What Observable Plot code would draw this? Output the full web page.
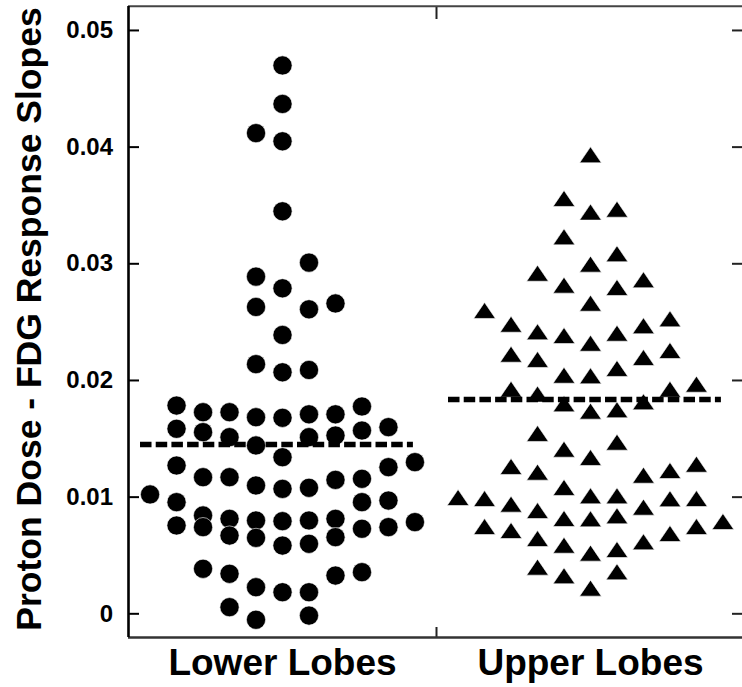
<!DOCTYPE html>
<html>
<head>
<meta charset="utf-8">
<script src="https://cdn.jsdelivr.net/npm/d3@7"></script>
<script src="https://cdn.jsdelivr.net/npm/@observablehq/plot@0.6"></script>
<style>
  html, body { margin: 0; padding: 0; background: #fff; overflow: hidden; }
  svg { display: block; }
  svg text { font-weight: bold; }
</style>
</head>
<body>
<div id="chart"></div>
<script>
// ---- data ----
const categories = ["Lower Lobes", "Upper Lobes"];

const lowerValues = [
  0.0470, 0.0437, 0.0412, 0.0405, 0.0345, 0.0301, 0.0289, 0.0279, 0.0263, 0.0261, 0.0266,
  0.0239, 0.0214, 0.0207, 0.0209,
  0.01785, 0.01728, 0.01728, 0.01685, 0.0168, 0.0171, 0.0171, 0.01777,
  0.01586, 0.01557, 0.01514, 0.01443, 0.01342, 0.01514, 0.01528, 0.01571, 0.0160,
  0.01271, 0.01171, 0.01171, 0.0110, 0.01071, 0.0108, 0.01148, 0.01157, 0.01257, 0.0130,
  0.01023, 0.00957, 0.00957, 0.00971,
  0.00757, 0.00843, 0.00743, 0.00814, 0.00671, 0.0080, 0.00651, 0.00794, 0.00585,
  0.0080, 0.0060, 0.00814, 0.00657, 0.00729, 0.00743, 0.00786,
  0.00386, 0.00343, 0.00228, 0.00185, 0.00185, 0.00328, 0.00357,
  0.00057, -0.00051, -0.00015
];
const lowerSlots = [
  0, 0, -1, 0, 0, 1, -1, 0, -1, 1, 2,
  0, -1, 0, 1,
  -4, -3, -2, -1, 0, 1, 2, 3,
  -4, -3, -2, -1, 0, 1, 2, 3, 4,
  -4, -3, -2, -1, 0, 1, 2, 3, 4, 5,
  -5, -4, 3, 4,
  -4, -3, -3, -2, -2, -1, -1, 0, 0,
  1, 1, 2, 2, 3, 4, 5,
  -3, -2, -1, 0, 1, 2, 3,
  -2, -1, 1
];

const upperValues = [
  0.03934, 0.0356, 0.03443, 0.03468, 0.03231, 0.03086, 0.02997, 0.02919, 0.02817, 0.02797, 0.02863,
  0.02662, 0.0260, 0.02482, 0.02417, 0.02385, 0.02319, 0.02405, 0.02469, 0.02528,
  0.02225, 0.0218, 0.02045, 0.0204, 0.02103, 0.02197, 0.02257,
  0.01925, 0.01883, 0.01925, 0.01968,
  0.0180, 0.01737, 0.01749, 0.01817,
  0.01546, 0.01411, 0.0134, 0.01471,
  0.01263, 0.01214, 0.01188, 0.01228, 0.01282,
  0.01083, 0.01011, 0.01011,
  0.00997, 0.00988, 0.0094, 0.00885, 0.00914, 0.00986, 0.00988,
  0.00817, 0.00814, 0.0084,
  0.00748, 0.00714, 0.00791, 0.00748, 0.00688, 0.00617,
  0.00645, 0.00588, 0.0052, 0.00551,
  0.0040, 0.00326, 0.0036, 0.0022
];
const upperSlots = [
  0, -1, 0, 1, -1, 1, 0, -2, -1, 1, 2,
  0, -4, -3, -2, -1, 0, 1, 2, 3,
  -3, -2, -1, 0, 1, 2, 3,
  -3, -2, 3, 4,
  -1, 0, 1, 2,
  -2, -1, 0, 1,
  -3, -2, 2, 3, 4,
  -1, 0, 1,
  -5, -4, -3, -2, 2, 3, 4,
  -1, 0, 1,
  -4, -3, 5, 4, 3, 2,
  -2, -1, 0, 1,
  -2, -1, 1, 0
];

const groupMeans = [0.01451, 0.01837];

const yTicks = [0, 0.01, 0.02, 0.03, 0.04, 0.05];
const yTickLabels = ["0", "0.01", "0.02", "0.03", "0.04", "0.05"];
const yTitle = "Proton Dose - FDG Response Slopes";

// ---- layout ----
const W = 742, H = 687;
const mL = 128, mT = 6, mB = 50, mR = 0;
const yDomain = [-0.00203, 0.05207];
const xDomain = [0.5, 2.5];
const slotStep = 0.086;
const frameH = H - mB - mT;

const lower = lowerValues.map((v, i) => ({value: v, pos: 1 + lowerSlots[i] * slotStep}));
const upper = upperValues.map((v, i) => ({value: v, pos: 2 + upperSlots[i] * slotStep}));
const means = groupMeans.map((m, i) => ({value: m, x1: i + 1 - 0.461, x2: i + 1 + 0.425}));

const triangle = {
  draw(ctx, size) {
    const r = Math.sqrt(size / Math.PI);
    const w = r * 1.36;
    ctx.moveTo(0, -r);
    ctx.lineTo(w, r);
    ctx.lineTo(-w, r);
    ctx.closePath();
  }
};

const chart = Plot.plot({
  width: W,
  height: H,
  marginLeft: mL,
  marginRight: mR,
  marginTop: mT,
  marginBottom: mB,
  style: {fontFamily: "'Liberation Sans', Arial, Helvetica, sans-serif", color: "#000", background: "#fff"},
  x: {type: "linear", domain: xDomain, range: [mL, W + 2]},
  y: {domain: yDomain, range: [H - mB, 5.8]},
  marks: [
    Plot.axisY({ticks: yTicks, tickFormat: d => yTickLabels[yTicks.indexOf(d)], tickSize: 0, tickPadding: 15.5, fontSize: 24, label: null}),
    Plot.axisX({ticks: [1, 2], tickFormat: d => categories[d - 1], tickSize: 0, tickPadding: 11, fontSize: 37, label: null}),
    // inward tick marks
    Plot.tickY(yTicks, {y: d => d, insetRight: W - mL - mR - 11, stroke: "#000", strokeWidth: 2}),
    Plot.tickY(yTicks, {y: d => d, insetLeft: W - mL - mR - 10, stroke: "#222", strokeWidth: 2}),
    Plot.tickX([1.5], {x: d => d, insetBottom: frameH - 13, stroke: "#222", strokeWidth: 2}),
    Plot.tickX([1.5], {x: d => d, insetTop: frameH - 10, stroke: "#222", strokeWidth: 2}),
    // frame
    Plot.ruleY([yDomain[1]], {stroke: "#444", strokeWidth: 2}),
    Plot.ruleY([yDomain[0]], {stroke: "#333", strokeWidth: 2.6}),
    Plot.ruleX([xDomain[0]], {stroke: "#000", strokeWidth: 2.6}),
    // points
    Plot.dot(lower, {x: "pos", y: "value", r: 9.6, fill: "#000", stroke: "#fff", strokeWidth: 0.6}),
    Plot.dot(upper, {x: "pos", y: "value", r: 8, symbol: triangle, fill: "#000", stroke: "#fff", strokeWidth: 0.6}),
    // mean lines
    Plot.ruleY(means, {y: "value", x1: "x1", x2: "x2", stroke: "#000", strokeWidth: 5.5, strokeDasharray: "11.5,4.2"}),
    // y title
    Plot.text([yTitle], {text: d => d, frameAnchor: "left", textAnchor: "middle", lineAnchor: "middle", rotate: -90, dx: -99, dy: -3, fontSize: 35.5, fill: "#000"})
  ]
});

document.getElementById("chart").appendChild(chart);
</script>
</body>
</html>
